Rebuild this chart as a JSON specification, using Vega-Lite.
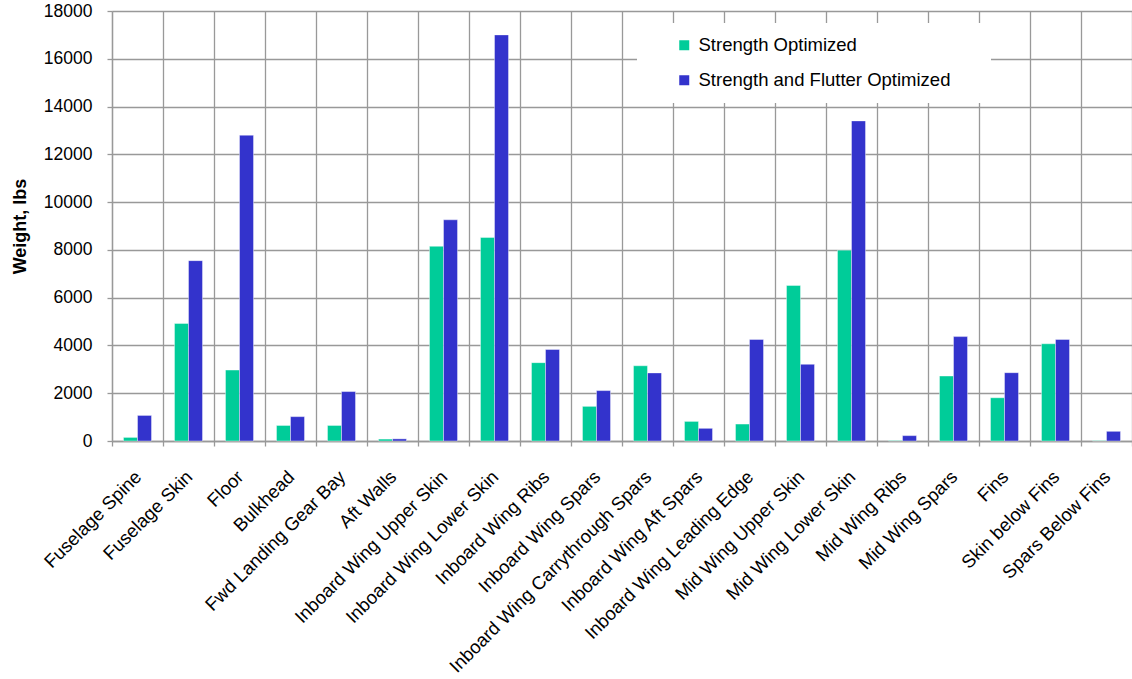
{
  "$schema": "https://vega.github.io/schema/vega-lite/v6.json",
  "width": 1020,
  "height": 430,
  "autosize": {"type": "none"},
  "padding": {"left": 112, "top": 11, "right": 0, "bottom": 238},
  "background": "white",
  "config": {
    "view": {"stroke": null},
    "font": "Liberation Sans"
  },
  "data": {
    "values": [
      {"part": "Fuselage Spine", "series": "Strength Optimized", "weight": 150},
      {"part": "Fuselage Spine", "series": "Strength and Flutter Optimized", "weight": 1070},
      {"part": "Fuselage Skin", "series": "Strength Optimized", "weight": 4920},
      {"part": "Fuselage Skin", "series": "Strength and Flutter Optimized", "weight": 7550},
      {"part": "Floor", "series": "Strength Optimized", "weight": 2970},
      {"part": "Floor", "series": "Strength and Flutter Optimized", "weight": 12800},
      {"part": "Bulkhead", "series": "Strength Optimized", "weight": 650},
      {"part": "Bulkhead", "series": "Strength and Flutter Optimized", "weight": 1020},
      {"part": "Fwd Landing Gear Bay", "series": "Strength Optimized", "weight": 650},
      {"part": "Fwd Landing Gear Bay", "series": "Strength and Flutter Optimized", "weight": 2070},
      {"part": "Aft Walls", "series": "Strength Optimized", "weight": 80},
      {"part": "Aft Walls", "series": "Strength and Flutter Optimized", "weight": 90},
      {"part": "Inboard Wing Upper Skin", "series": "Strength Optimized", "weight": 8150},
      {"part": "Inboard Wing Upper Skin", "series": "Strength and Flutter Optimized", "weight": 9260},
      {"part": "Inboard Wing Lower Skin", "series": "Strength Optimized", "weight": 8520},
      {"part": "Inboard Wing Lower Skin", "series": "Strength and Flutter Optimized", "weight": 17000},
      {"part": "Inboard Wing Ribs", "series": "Strength Optimized", "weight": 3280},
      {"part": "Inboard Wing Ribs", "series": "Strength and Flutter Optimized", "weight": 3830},
      {"part": "Inboard Wing Spars", "series": "Strength Optimized", "weight": 1450},
      {"part": "Inboard Wing Spars", "series": "Strength and Flutter Optimized", "weight": 2110},
      {"part": "Inboard Wing Carrythrough  Spars", "series": "Strength Optimized", "weight": 3150},
      {"part": "Inboard Wing Carrythrough  Spars", "series": "Strength and Flutter Optimized", "weight": 2850},
      {"part": "Inboard Wing Aft Spars", "series": "Strength Optimized", "weight": 820},
      {"part": "Inboard Wing Aft Spars", "series": "Strength and Flutter Optimized", "weight": 530},
      {"part": "Inboard Wing Leading Edge", "series": "Strength Optimized", "weight": 710},
      {"part": "Inboard Wing Leading Edge", "series": "Strength and Flutter Optimized", "weight": 4250},
      {"part": "Mid Wing Upper Skin", "series": "Strength Optimized", "weight": 6510},
      {"part": "Mid Wing Upper Skin", "series": "Strength and Flutter Optimized", "weight": 3210},
      {"part": "Mid Wing Lower Skin", "series": "Strength Optimized", "weight": 7990},
      {"part": "Mid Wing Lower Skin", "series": "Strength and Flutter Optimized", "weight": 13400},
      {"part": "Mid Wing Ribs", "series": "Strength Optimized", "weight": 20},
      {"part": "Mid Wing Ribs", "series": "Strength and Flutter Optimized", "weight": 225},
      {"part": "Mid Wing Spars", "series": "Strength Optimized", "weight": 2720},
      {"part": "Mid Wing Spars", "series": "Strength and Flutter Optimized", "weight": 4370},
      {"part": "Fins", "series": "Strength Optimized", "weight": 1810},
      {"part": "Fins", "series": "Strength and Flutter Optimized", "weight": 2860},
      {"part": "Skin below Fins", "series": "Strength Optimized", "weight": 4070},
      {"part": "Skin below Fins", "series": "Strength and Flutter Optimized", "weight": 4250},
      {"part": "Spars Below Fins", "series": "Strength Optimized", "weight": 15},
      {"part": "Spars Below Fins", "series": "Strength and Flutter Optimized", "weight": 405}
    ]
  },
  "mark": {"type": "bar", "strokeWidth": 0.8, "strokeOpacity": 0.5, "stroke": "#ffffff"},
  "encoding": {
    "x": {
      "field": "part",
      "type": "nominal",
      "sort": null,
      "scale": {"paddingInner": 0, "paddingOuter": 0},
      "axis": {
        "title": null,
        "tickBand": "extent",
        "grid": true,
        "gridColor": "#999999",
        "gridWidth": 1.3,
        "gridOpacity": 1,
        "domainColor": "#999999",
        "domainWidth": 1.3,
        "tickColor": "#999999",
        "tickWidth": 1.3,
        "tickSize": 5,
        "labelAngle": -45,
        "labelFontSize": 18.5,
        "labelColor": "#000000",
        "labelPadding": 21,
        "labelOffset": -6,
        "labelLimit": 400
      }
    },
    "xOffset": {
      "field": "series",
      "type": "nominal",
      "sort": ["Strength Optimized", "Strength and Flutter Optimized"],
      "scale": {"paddingOuter": 0.82, "paddingInner": 0}
    },
    "y": {
      "field": "weight",
      "type": "quantitative",
      "scale": {"domain": [0, 18000], "nice": false},
      "axis": {
        "title": "Weight, lbs",
        "titleFontSize": 18,
        "titleFontWeight": "bold",
        "titleColor": "#000000",
        "titlePadding": 14,
        "values": [0, 2000, 4000, 6000, 8000, 10000, 12000, 14000, 16000, 18000],
        "format": "d",
        "grid": true,
        "gridColor": "#999999",
        "gridWidth": 1.3,
        "gridOpacity": 1,
        "domainColor": "#999999",
        "domainWidth": 1.3,
        "tickColor": "#999999",
        "tickWidth": 1.3,
        "tickSize": 5,
        "labelFontSize": 17.5,
        "labelColor": "#000000",
        "labelPadding": 15
      }
    },
    "color": {
      "field": "series",
      "type": "nominal",
      "scale": {
        "domain": ["Strength Optimized", "Strength and Flutter Optimized"],
        "range": ["#00CC99", "#3333CC"]
      },
      "legend": {
        "title": " ",
        "titleOrient": "right",
        "titlePadding": 28,
        "titleFontSize": 10,
        "orient": "none",
        "legendX": 525,
        "legendY": 12,
        "fillColor": "white",
        "strokeColor": null,
        "padding": 13,
        "symbolType": "square",
        "symbolSize": 100,
        "symbolStrokeWidth": 0,
        "symbolOffset": 25,
        "labelFontSize": 18.5,
        "labelColor": "#000000",
        "labelOffset": 5,
        "rowPadding": 16,
        "labelLimit": 400
      }
    }
  }
}
